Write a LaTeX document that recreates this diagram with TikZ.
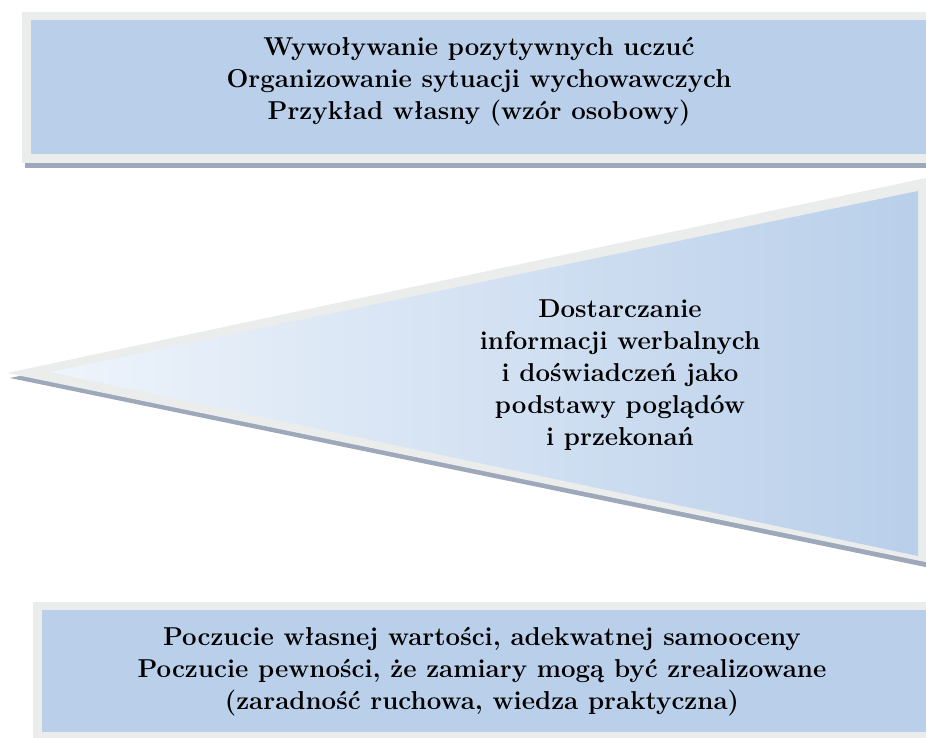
\documentclass[tikz,border=0pt]{standalone}
\usepackage{fontspec}
\usepackage{tikz}
\definecolor{niebieski}{HTML}{B9CFEA}
\definecolor{jasny}{HTML}{EEF4FB}
\definecolor{obwod}{HTML}{EBEDEC}
\definecolor{cien}{HTML}{9DA8BB}
\tikzstyle{ramka}=[fill=obwod]
\tikzstyle{pole}=[fill=niebieski]
\tikzstyle{pasek}=[fill=cien]
\tikzstyle{opis}=[align=center, text=black,
  font=\fontsize{19.4}{24}\selectfont\bfseries]
\newcommand{\skrzynka}[4]{%
  % Grey frame with the blue field inside
  \path[ramka] (#1,#2) rectangle (1000,#4);
  \path[pole] (#1+9,#2+8) rectangle (1000,#3);}

\begin{document}
\begin{tikzpicture}[x=0.75pt,y=-0.75pt]
\useasboundingbox (0,0) rectangle (926,738);
\clip (0,0) rectangle (926,738);

  % Top box
\path[pasek] (25,158) rectangle (1000,168);
\skrzynka{22}{12}{154}{163}
\path (479,82) node (w1) [opis]
  {Wywoływanie pozytywnych uczuć\\Organizowanie sytuacji wychowawczych\\Przykład własny (wzór osobowy)};

  % Wedge
\path[pasek] (10,378) -- (940,180) -- (940,570) -- cycle;
\path[ramka] (7,373) -- (940,175) -- (940,565) -- cycle;
\path[left color=jasny, right color=niebieski] (50,372) -- (918,191) -- (918,556) -- cycle;
\path (620,375) node (w2) [opis]
  {Dostarczanie\\informacji werbalnych\\i doświadczeń jako\\podstawy poglądów\\i przekonań};

  % Bottom box
\skrzynka{33}{602}{732}{745}
\path (482,672) node (w3) [opis]
  {Poczucie własnej wartości, adekwatnej samooceny\\Poczucie pewności, że zamiary mogą być zrealizowane\\(zaradność ruchowa, wiedza praktyczna)};
\end{tikzpicture}
\end{document}
